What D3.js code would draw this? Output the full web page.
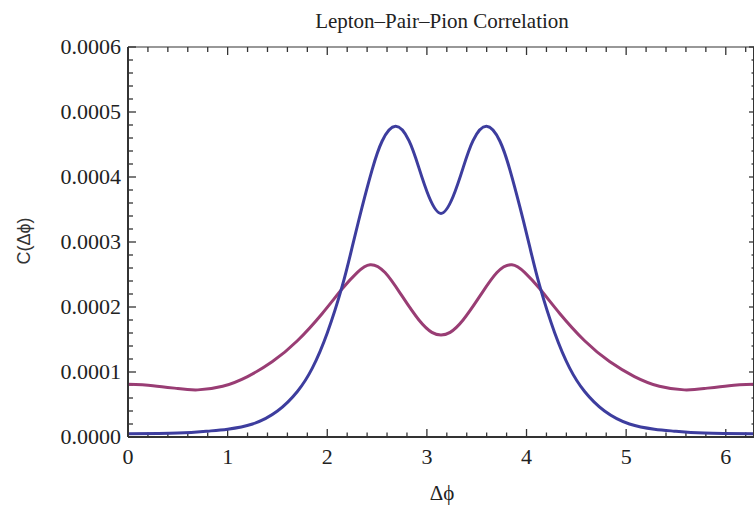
<!DOCTYPE html>
<html>
<head>
<meta charset="utf-8">
<script src="https://cdn.jsdelivr.net/npm/d3@7"></script>
<style>
  body { margin: 0; background: #fff; }
  svg { display: block; }
  .tick-label { font-family: "Liberation Serif", "Times New Roman", serif; font-size: 22px; fill: #222; }
</style>
</head>
<body>
<div id="chart"></div>
<script>
// values (symmetric around pi)
const blueX = [0, 0.5, 0.8, 1.0, 1.25, 1.5, 1.7, 1.85, 2.0, 2.15, 2.25, 2.35, 2.45, 2.55, 2.685, 2.82, 2.92, 3.02, 3.1416,
    3.2632, 3.3632, 3.4632, 3.5982, 3.7332, 3.8332, 3.9332, 4.0332, 4.1332, 4.2832, 4.4332, 4.5832, 4.7832, 5.0332, 5.2832, 5.4832, 5.7832, 6.2832];
const blueY = [0.000005, 0.000006, 0.000009, 0.000012, 0.000020, 0.000040, 0.000070, 0.000106, 0.000160, 0.000232, 0.000292, 0.000354, 0.000411, 0.000455, 0.000478, 0.000456, 0.000414, 0.000370, 0.000344,
    0.000370, 0.000414, 0.000456, 0.000478, 0.000455, 0.000411, 0.000354, 0.000292, 0.000232, 0.000160, 0.000106, 0.000070, 0.000040, 0.000020, 0.000012, 0.000009, 0.000006, 0.000005];

const purpleX = [0, 0.25, 0.5, 0.7, 0.95, 1.2, 1.45, 1.7, 1.95, 2.15, 2.3, 2.43, 2.58, 2.75, 2.92, 3.05, 3.1416,
    3.2332, 3.3632, 3.5332, 3.7032, 3.8532, 3.9832, 4.1332, 4.3332, 4.5832, 4.8332, 5.0832, 5.3332, 5.5832, 5.7832, 6.0332, 6.2832];
const purpleY = [0.0000810, 0.0000790, 0.0000745, 0.0000725, 0.0000780, 0.0000930, 0.0001160, 0.0001480, 0.0001900, 0.0002280, 0.0002530, 0.0002650, 0.0002530, 0.0002170, 0.0001800, 0.0001610, 0.0001570,
    0.0001610, 0.0001800, 0.0002170, 0.0002530, 0.0002650, 0.0002530, 0.0002280, 0.0001900, 0.0001480, 0.0001160, 0.0000930, 0.0000780, 0.0000725, 0.0000745, 0.0000790, 0.0000810];

const xTicks = [0, 1, 2, 3, 4, 5, 6];
const yTicks = [0, 0.0001, 0.0002, 0.0003, 0.0004, 0.0005, 0.0006];

const width = 754;
const height = 505;
const margin = {top: 47, right: 0, bottom: 68, left: 128};

const svg = d3.select("#chart").append("svg")
    .attr("width", width)
    .attr("height", height);

const x = d3.scaleLinear()
    .domain([0, 2 * Math.PI])
    .range([margin.left, width - margin.right]);

const y = d3.scaleLinear()
    .domain([0, 0.0006])
    .range([height - margin.bottom, margin.top]);

const x0 = x.range()[0], x1 = x.range()[1];
const y0 = y.range()[0], y1 = y.range()[1];

const minorX = d3.range(0, 6.3, 0.2).filter(v => Math.abs(v - Math.round(v)) > 1e-6);
const minorY = d3.range(0, 0.00060001, 0.00002).filter(v => Math.abs(v * 10000 - Math.round(v * 10000)) > 1e-6);

const frame = svg.append("g").attr("stroke", "#333").attr("fill", "none");

// ticks, pointing inward on all four sides
const tickG = svg.append("g").attr("stroke", "#333").attr("stroke-width", 1.3);
xTicks.forEach(v => {
    tickG.append("line").attr("x1", x(v)).attr("x2", x(v)).attr("y1", y0).attr("y2", y0 - 8);
    tickG.append("line").attr("x1", x(v)).attr("x2", x(v)).attr("y1", y1).attr("y2", y1 + 8);
});
minorX.forEach(v => {
    tickG.append("line").attr("x1", x(v)).attr("x2", x(v)).attr("y1", y0).attr("y2", y0 - 4.5);
    tickG.append("line").attr("x1", x(v)).attr("x2", x(v)).attr("y1", y1).attr("y2", y1 + 5);
});
yTicks.forEach(v => {
    tickG.append("line").attr("x1", x0).attr("x2", x0 + 8).attr("y1", y(v)).attr("y2", y(v));
    tickG.append("line").attr("x1", x1).attr("x2", x1 - 5).attr("y1", y(v)).attr("y2", y(v));
});
minorY.forEach(v => {
    tickG.append("line").attr("x1", x0).attr("x2", x0 + 5).attr("y1", y(v)).attr("y2", y(v));
    tickG.append("line").attr("x1", x1).attr("x2", x1 - 2.5).attr("y1", y(v)).attr("y2", y(v));
});

// curves
const line = d3.line()
    .x(d => x(d[0]))
    .y(d => y(d[1]))
    .curve(d3.curveNatural);

const purplePts = purpleX.map((v, i) => [v, purpleY[i]]);
const bluePts = blueX.map((v, i) => [v, blueY[i]]);

const clip = svg.append("clipPath").attr("id", "plotclip")
    .append("rect").attr("x", x0).attr("y", y1).attr("width", x1 - x0).attr("height", y0 - y1);

const curves = svg.append("g").attr("clip-path", "url(#plotclip)");
curves.append("path")
    .datum(purplePts)
    .attr("d", line)
    .attr("fill", "none")
    .attr("stroke", "#993d74")
    .attr("stroke-width", 3);
curves.append("path")
    .datum(bluePts)
    .attr("d", line)
    .attr("fill", "none")
    .attr("stroke", "#3d3d9e")
    .attr("stroke-width", 3);

// frame on top
frame.append("line").attr("x1", x0).attr("x2", x1).attr("y1", y0).attr("y2", y0).attr("stroke-width", 2);
frame.append("line").attr("x1", x0).attr("x2", x0).attr("y1", y0).attr("y2", y1).attr("stroke-width", 2);
frame.append("line").attr("x1", x0).attr("x2", x1).attr("y1", y1).attr("y2", y1).attr("stroke-width", 1.2);
frame.append("line").attr("x1", x1 - 0.5).attr("x2", x1 - 0.5).attr("y1", y0).attr("y2", y1).attr("stroke-width", 1);
frame.raise();

// tick labels
svg.append("g").selectAll("text")
    .data(xTicks)
    .join("text")
    .attr("class", "tick-label")
    .attr("x", d => x(d))
    .attr("y", y0 + 27)
    .attr("text-anchor", "middle")
    .text(d => d);

svg.append("g").selectAll("text")
    .data(yTicks)
    .join("text")
    .attr("class", "tick-label")
    .attr("x", x0 - 7)
    .attr("y", d => y(d) + 7)
    .attr("text-anchor", "end")
    .text(d => d3.format(".4f")(d));

// title and axis labels
svg.append("text")
    .attr("x", 442)
    .attr("y", 28)
    .attr("text-anchor", "middle")
    .attr("font-family", "Liberation Serif, serif")
    .attr("font-size", 21)
    .attr("fill", "#222")
    .text("Lepton\u2013Pair\u2013Pion Correlation");

svg.append("text")
    .attr("x", 442)
    .attr("y", 500)
    .attr("text-anchor", "middle")
    .attr("font-family", "Liberation Serif, serif")
    .attr("font-size", 21)
    .attr("fill", "#222")
    .text("\u0394\u03d5");

svg.append("text")
    .attr("transform", "translate(30,241) rotate(-90)")
    .attr("text-anchor", "middle")
    .attr("font-family", "Liberation Sans, sans-serif")
    .attr("font-size", 18)
    .attr("fill", "#333")
    .text("C(\u0394\u03d5)");
</script>
</body>
</html>
